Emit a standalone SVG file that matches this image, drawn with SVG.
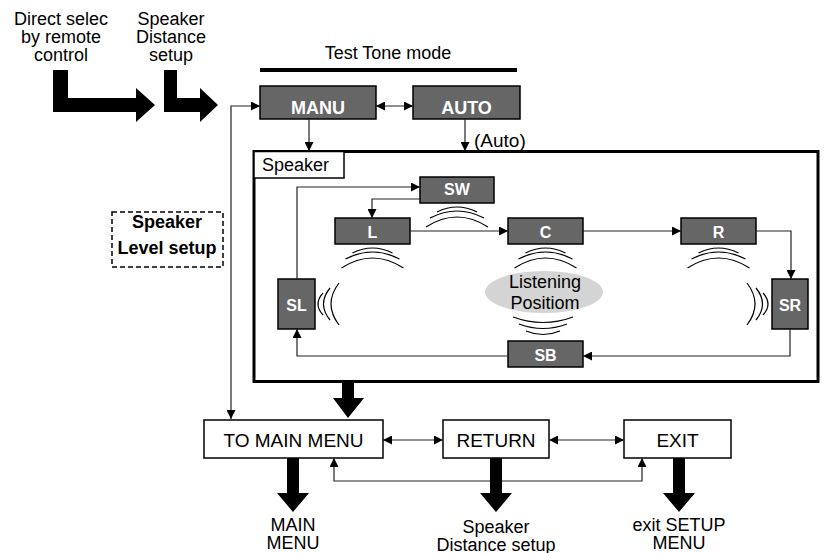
<svg xmlns="http://www.w3.org/2000/svg" width="825" height="553" viewBox="0 0 825 553">
<style>
text{font-family:"Liberation Sans",Arial,Helvetica,sans-serif;fill:#000}
.m{text-anchor:middle}
.f18{font-size:18px}
.f17{font-size:17px}
.f19{font-size:19px}
.spk rect{fill:#666;stroke:#000;stroke-width:1.5}
.spk text{fill:#fff;font-weight:bold;font-size:16px;text-anchor:middle}
.mode rect{fill:#666;stroke:#000;stroke-width:1.5}
.mode text{fill:#fff;font-weight:bold;font-size:18px;text-anchor:middle}
.wbox rect{fill:#fff;stroke:#000;stroke-width:1.5}
.conn path{fill:none;stroke:#222;stroke-width:1.2}
.wave path{fill:none;stroke:#000;stroke-width:1.2}
.big{fill:#000}
.bold{font-weight:bold;font-size:18px}
</style>
<defs>
<marker id="ah" viewBox="0 0 10 10" refX="10" refY="5" markerWidth="10" markerHeight="9" markerUnits="userSpaceOnUse" orient="auto-start-reverse">
<path d="M0,0 L10,5 L0,10 z" fill="#000"/>
</marker>
</defs>

<g id="direct-select">
<text class="f18 m" x="61" y="25">Direct selec</text>
<text class="f18 m" x="61" y="43">by remote</text>
<text class="f18 m" x="61" y="61">control</text>
<polygon class="big" points="53,70 68,70 68,98 136,98 136,88 155,105 136,122 136,112 53,112"/>
</g>
<g id="speaker-distance">
<text class="f18 m" x="171" y="25">Speaker</text>
<text class="f18 m" x="171" y="43">Distance</text>
<text class="f18 m" x="171" y="61">setup</text>
<polygon class="big" points="164,70 177,70 177,98 200,98 200,88 218,105 200,122 200,112 164,112"/>
</g>

<g id="test-tone">
<text class="f18 m" x="388" y="59">Test Tone mode</text>
<rect x="260" y="68" width="257" height="4" fill="#000"/>
</g>

<g id="manu" class="mode">
<rect x="260" y="86" width="116" height="33"/>
<text x="318" y="114">MANU</text>
</g>
<g id="auto" class="mode">
<rect x="413" y="86" width="107" height="33"/>
<text x="466.5" y="114">AUTO</text>
</g>
<text class="f19" x="474" y="147">(Auto)</text>

<g id="speaker-frame">
<rect x="254" y="151.5" width="564" height="230" fill="none" stroke="#000" stroke-width="3"/>
<rect x="254" y="151.5" width="90" height="26.5" fill="#fff" stroke="#000" stroke-width="1.5"/>
<text class="f18" x="262" y="171">Speaker</text>
</g>

<g id="level-setup">
<rect x="112" y="212" width="111" height="55" fill="#fff" stroke="#000" stroke-width="1.5" stroke-dasharray="5,3"/>
<text class="m bold" x="167" y="228">Speaker</text>
<text class="m bold" x="167" y="254">Level setup</text>
</g>

<g id="listening">
<ellipse cx="544" cy="292" rx="59" ry="21" fill="#d4d4d4"/>
<text class="f18 m" x="545" y="288">Listening</text>
<text class="f18 m" x="545" y="309">Positiom</text>
</g>

<g class="wave" id="waves">
<path d="M437,212 Q457,202 477,212"/>
<path d="M430,218 Q457,204 484,218"/>
<path d="M426,227 Q457,207 488,227"/>
<path d="M352.5,253 Q372.5,243 392.5,253"/>
<path d="M345.5,259 Q372.5,245 399.5,259"/>
<path d="M341.5,268 Q372.5,248 403.5,268"/>
<path d="M525.5,253 Q545.5,243 565.5,253"/>
<path d="M518.5,259 Q545.5,245 572.5,259"/>
<path d="M514.5,268 Q545.5,248 576.5,268"/>
<path d="M698.5,253 Q718.5,243 738.5,253"/>
<path d="M691.5,259 Q718.5,245 745.5,259"/>
<path d="M687.5,268 Q718.5,248 749.5,268"/>
<path d="M513,317 Q543,328 573,317"/>
<path d="M519,324 Q543,333 567,324"/>
<path d="M526,331 Q543,338 560,331"/>
<path d="M323,293 Q313,304 323,315"/>
<path d="M330,288 Q317,304 330,320"/>
<path d="M339,283 Q323,304 339,325"/>
<path d="M763,293 Q773,304 763,315"/>
<path d="M756,288 Q769,304 756,320"/>
<path d="M747,283 Q763,304 747,325"/>
</g>

<g id="sw" class="spk"><rect x="420" y="177" width="74" height="26"/><text x="457" y="195">SW</text></g>
<g id="l" class="spk"><rect x="335" y="218" width="75" height="26"/><text x="372.5" y="237.5">L</text></g>
<g id="c" class="spk"><rect x="508" y="218" width="75" height="26"/><text x="545.5" y="237.5">C</text></g>
<g id="r" class="spk"><rect x="681" y="218" width="75" height="26"/><text x="718.5" y="237.5">R</text></g>
<g id="sl" class="spk"><rect x="278" y="279" width="37" height="50"/><text x="296.5" y="311">SL</text></g>
<g id="sr" class="spk"><rect x="772" y="279" width="36" height="50"/><text x="790" y="311">SR</text></g>
<g id="sb" class="spk"><rect x="508" y="341" width="75" height="26"/><text x="545.5" y="361">SB</text></g>

<g id="to-main-menu" class="wbox"><rect x="204" y="420" width="179" height="38"/><text class="f19 m" x="293.5" y="447">TO MAIN MENU</text></g>
<g id="return" class="wbox"><rect x="443" y="420" width="106" height="38"/><text class="f19 m" x="496" y="447">RETURN</text></g>
<g id="exit" class="wbox"><rect x="624" y="420" width="107" height="38"/><text class="f19 m" x="677.5" y="447">EXIT</text></g>

<g id="connectors" class="conn">
<path d="M376,106 H413" marker-start="url(#ah)" marker-end="url(#ah)"/>
<path d="M260,106 H231 V419" marker-start="url(#ah)" marker-end="url(#ah)"/>
<path d="M309,119 V151" marker-end="url(#ah)"/>
<path d="M465,119 V151" marker-end="url(#ah)"/>
<path d="M297,279 V187 H420" marker-end="url(#ah)"/>
<path d="M420,199 H372 V218" marker-end="url(#ah)"/>
<path d="M410,231 H508" marker-end="url(#ah)"/>
<path d="M583,231 H681" marker-end="url(#ah)"/>
<path d="M756,231 H791 V279" marker-end="url(#ah)"/>
<path d="M790,329 V356 H583" marker-end="url(#ah)"/>
<path d="M508,356 H297 V329" marker-end="url(#ah)"/>
<path d="M383,440 H443" marker-start="url(#ah)" marker-end="url(#ah)"/>
<path d="M549,440 H624" marker-start="url(#ah)" marker-end="url(#ah)"/>
<path d="M334,458 V481 H642 V458" marker-start="url(#ah)" marker-end="url(#ah)"/>
</g>

<g id="big-arrows" class="big">
<polygon points="342,383 354,383 354,398 364,398 348,418 333,398 342,398"/>
<polygon points="287,458 299,458 299,493 309,493 293,512 277,493 287,493"/>
<polygon points="490,458 502,458 502,493 512,493 496,512 480,493 490,493"/>
<polygon points="673,458 685,458 685,493 695,493 679,512 663,493 673,493"/>
</g>

<g id="outputs">
<text class="f18 m" x="293" y="531">MAIN</text>
<text class="f18 m" x="293" y="549">MENU</text>
<text class="f18 m" x="496" y="533">Speaker</text>
<text class="f18 m" x="496" y="551">Distance setup</text>
<text class="f18 m" x="679" y="531">exit SETUP</text>
<text class="f18 m" x="679" y="549">MENU</text>
</g>
</svg>
